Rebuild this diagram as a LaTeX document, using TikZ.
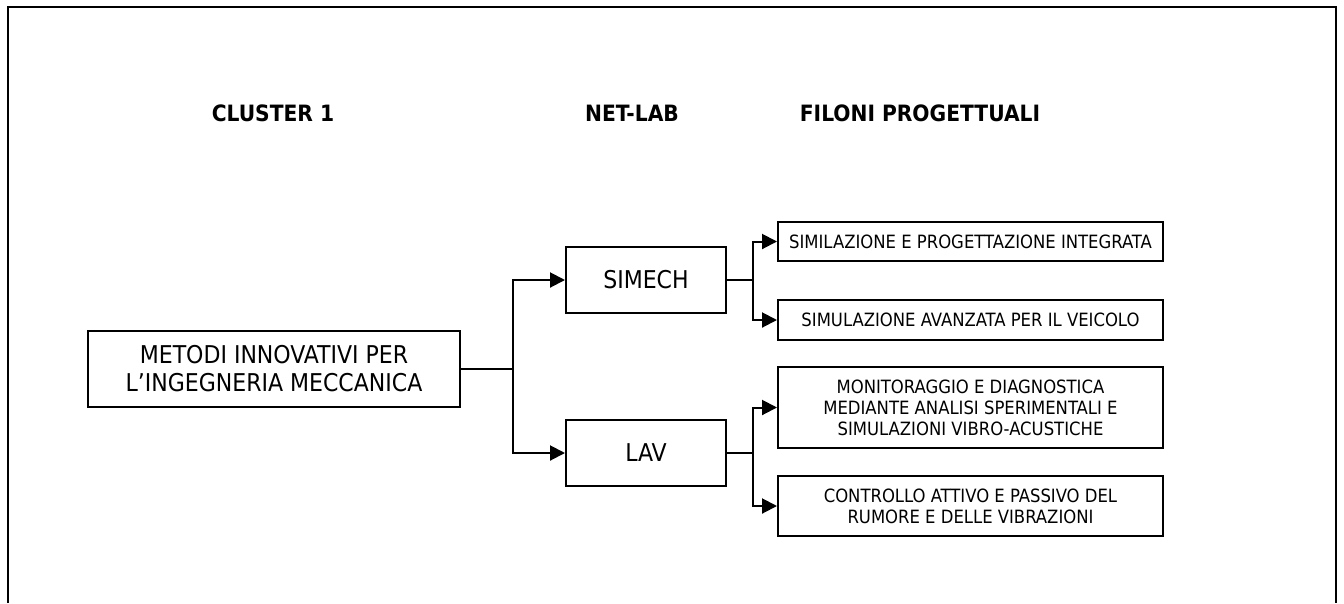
\documentclass[tikz,border=0pt]{standalone}
\usepackage{fontspec}
\setmainfont{DejaVu Sans Condensed}
\usetikzlibrary{arrows.meta}
\newcommand{\grande}{\fontsize{24.5}{28}\selectfont}
\newcommand{\piccolo}{\fontsize{18.3}{21}\selectfont}
\newcommand{\titolo}[3]{\node[font=\fontsize{22.5}{26}\selectfont\bfseries] (#1) at (#2) {#3}}
\newcommand{\ramo}[3]{\draw[linea] (#1.east) -- (#2);
	\draw[freccia] (#2) |- (#3.west)}
\tikzset{
	scatola/.style={draw, line width=2pt, align=center, inner sep=0pt},
	linea/.style={line width=2pt},
	freccia/.style={linea, -{Triangle[length=15pt,width=15pt]}}
}

\begin{document}
\begin{tikzpicture}[x=1pt, y=-1pt]
	\useasboundingbox (0,0) rectangle (1344,603);
%Frame
	\draw[line width=2pt] (8,603) -- (8,7) -- (1336,7) -- (1336,603);
%Titles
	\titolo{cluster}{273,113}{CLUSTER 1};
	\titolo{netlab}{632,113}{NET-LAB};
	\titolo{filoni}{920,113}{FILONI PROGETTUALI};
%The cluster
	\node[scatola, minimum width=372pt, minimum height=76pt, font=\grande] (metodi) at (274,369)
		{METODI INNOVATIVI PER\\L'INGEGNERIA MECCANICA};
%The labs
	\node[scatola, minimum width=160pt, minimum height=66pt, font=\grande] (simech) at (646,280) {SIMECH};
	\node[scatola, minimum width=160pt, minimum height=66pt, font=\grande] (lav) at (646,453) {LAV};
%The projects
	\node[scatola, minimum width=385pt, minimum height=39pt, font=\piccolo] (integrata) at (970.5,241.5)
		{SIMILAZIONE E PROGETTAZIONE INTEGRATA};
	\node[scatola, minimum width=385pt, minimum height=40pt, font=\piccolo] (veicolo) at (970.5,320)
		{SIMULAZIONE AVANZATA PER IL VEICOLO};
	\node[scatola, minimum width=385pt, minimum height=81pt, font=\piccolo] (diagnostica) at (970.5,407.5)
		{MONITORAGGIO E DIAGNOSTICA\\MEDIANTE ANALISI SPERIMENTALI E\\SIMULAZIONI VIBRO-ACUSTICHE};
	\node[scatola, minimum width=385pt, minimum height=60pt, font=\piccolo] (rumore) at (970.5,506)
		{CONTROLLO ATTIVO E PASSIVO DEL\\RUMORE E DELLE VIBRAZIONI};
%Connectors
	\coordinate (j1) at ([xshift=52pt]metodi.east);
	\coordinate (j2) at ([xshift=26pt]simech.east);
	\coordinate (j3) at ([xshift=26pt]lav.east);
	\ramo{metodi}{j1}{simech};
	\draw[freccia] (j1) |- (lav.west);
	\ramo{simech}{j2}{integrata};
	\draw[freccia] (j2) |- (veicolo.west);
	\ramo{lav}{j3}{diagnostica};
	\draw[freccia] (j3) |- (rumore.west);
\end{tikzpicture}
\end{document}
